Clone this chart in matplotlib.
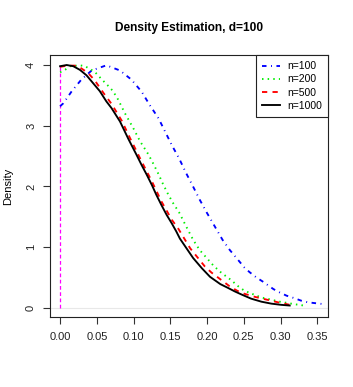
import matplotlib
matplotlib.use("Agg")
import matplotlib.pyplot as plt

plt.rcParams['font.family'] = ['Liberation Sans', 'DejaVu Sans']

# ---- data ----
x100 = [0.000, 0.0045, 0.016, 0.029, 0.043, 0.063, 0.0815, 0.097, 0.111, 0.122, 0.134, 0.143,
        0.152, 0.162, 0.171, 0.180, 0.190, 0.1995, 0.210, 0.221, 0.231, 0.240, 0.251, 0.258,
        0.267, 0.276, 0.290, 0.2965, 0.308, 0.319, 0.328, 0.337, 0.3486, 0.360]
y100 = [3.32, 3.37, 3.57, 3.76, 3.91, 3.995, 3.91, 3.76, 3.56, 3.34, 3.12, 2.90,
        2.68, 2.46, 2.23, 2.02, 1.78, 1.57, 1.35, 1.12, 0.95, 0.82, 0.66, 0.585,
        0.50, 0.43, 0.31, 0.265, 0.20, 0.157, 0.117, 0.09, 0.074, 0.058]

x200 = [0.000, 0.0067, 0.0135, 0.027, 0.034, 0.047, 0.057, 0.066, 0.072, 0.079, 0.088, 0.0996,
        0.109, 0.120, 0.127, 0.134, 0.140, 0.147, 0.154, 0.162, 0.172, 0.181, 0.190, 0.1995,
        0.209, 0.220, 0.228, 0.234, 0.240, 0.245, 0.251, 0.259, 0.2716, 0.278, 0.285, 0.299,
        0.312, 0.319, 0.327, 0.334]
y200 = [3.88, 3.92, 3.98, 3.995, 3.98, 3.89, 3.76, 3.65, 3.57, 3.43, 3.21, 2.96,
        2.74, 2.53, 2.37, 2.20, 2.04, 1.87, 1.72, 1.57, 1.33, 1.12, 0.95, 0.82,
        0.69, 0.57, 0.50, 0.445, 0.376, 0.33, 0.28, 0.24, 0.18, 0.157, 0.14, 0.10,
        0.074, 0.058, 0.046, 0.03]

x500 = [0.000, 0.010, 0.020, 0.027, 0.038, 0.047, 0.059, 0.070, 0.084, 0.095, 0.111, 0.125,
        0.138, 0.152, 0.161, 0.170, 0.177, 0.187, 0.197, 0.206, 0.218, 0.230, 0.241, 0.251,
        0.265, 0.286, 0.2965, 0.312]
y500 = [3.97, 3.99, 3.99, 3.96, 3.87, 3.75, 3.54, 3.36, 3.08, 2.80, 2.41, 2.08,
        1.75, 1.45, 1.30, 1.12, 0.98, 0.83, 0.68, 0.58, 0.47, 0.36, 0.28, 0.23,
        0.18, 0.12, 0.09, 0.05]

x1000 = [0.000, 0.009, 0.018, 0.027, 0.036, 0.045, 0.054, 0.063, 0.070, 0.0815, 0.093, 0.104,
         0.111, 0.118, 0.125, 0.131, 0.138, 0.145, 0.152, 0.158, 0.163, 0.172, 0.181, 0.193,
         0.204, 0.218, 0.228, 0.2376, 0.2466, 0.260, 0.274, 0.2875, 0.301, 0.3124]
y1000 = [3.98, 4.00, 3.98, 3.92, 3.83, 3.70, 3.57, 3.40, 3.29, 3.07, 2.78, 2.52,
         2.35, 2.19, 2.02, 1.86, 1.69, 1.53, 1.39, 1.26, 1.14, 0.98, 0.82, 0.65,
         0.51, 0.39, 0.33, 0.27, 0.22, 0.15, 0.10, 0.068, 0.048, 0.037]

vline_x = [0.0, 0.0]
vline_y = [0.0, 3.98]

labels = ["n=100", "n=200", "n=500", "n=1000"]
xticks = [0.00, 0.05, 0.10, 0.15, 0.20, 0.25, 0.30, 0.35]
xtick_labels = ["0.00", "0.05", "0.10", "0.15", "0.20", "0.25", "0.30", "0.35"]
yticks = [0, 1, 2, 3, 4]
ytick_labels = ["0", "1", "2", "3", "4"]
title = "Density Estimation, d=100"
ylabel = "Density"

# ---- figure ----
W, H = 353, 387
fig = plt.figure(figsize=(W / 100, H / 100), dpi=100)
ax = fig.add_axes([50 / W, 1 - 317 / H, 278 / W, 262 / H])

ax.axhline(0, color="#e8e8e8", lw=0.8, zorder=1)
ax.plot(vline_x, vline_y, color="#FF00FF", lw=0.9, dashes=(3, 2), zorder=2)

lw = 1.35
l1, = ax.plot(x100, y100, color="#0000FF", lw=lw, dashes=(2.4, 2.4, 0.5, 2.4), label=labels[0])
l2, = ax.plot(x200, y200, color="#00EE00", lw=lw, dashes=(0.8, 2.2), label=labels[1])
l3, = ax.plot(x500, y500, color="#FF0000", lw=lw, dashes=(2.8, 2.8), label=labels[2])
l4, = ax.plot(x1000, y1000, color="#000000", lw=lw, label=labels[3])

ax.set_xlim(-0.0137, 0.3645)
ax.set_ylim(-0.152, 4.165)
ax.set_xticks(xticks)
ax.set_xticklabels(xtick_labels)
ax.set_yticks(yticks)
ax.set_yticklabels(ytick_labels, rotation=90, va="center")
ax.tick_params(axis="both", direction="out", length=5, width=0.8, labelsize=8,
               color="#333333", labelcolor="#222222")
ax.tick_params(axis="x", pad=6)
ax.tick_params(axis="y", pad=5)
for s in ax.spines.values():
    s.set_linewidth(0.8)
    s.set_color("#222222")

leg = ax.legend(handles=[l1, l2, l3, l4], loc="upper right", borderaxespad=0,
                fancybox=False, edgecolor="#222222", framealpha=1, fontsize=7.5,
                handlelength=1.7, handletextpad=0.7, labelspacing=0.3,
                borderpad=0.6)
leg.get_frame().set_linewidth(0.8)

fig.text(189 / W, 1 - 28 / H, title, ha="center", va="center",
         fontsize=8.6, fontweight="bold")
fig.text(8 / W, 1 - 186 / H, ylabel, ha="center", va="center",
         rotation=90, fontsize=8)

fig.savefig("out.png", dpi=100)
